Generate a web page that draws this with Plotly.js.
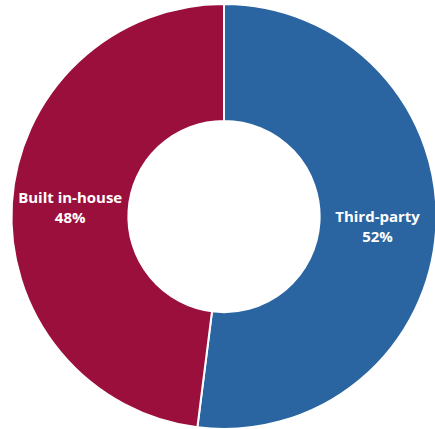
<!DOCTYPE html>
<html><head><meta charset="utf-8">
<script src="https://cdn.plot.ly/plotly-3.0.1.min.js"></script>
<style>html,body{margin:0;padding:0;overflow:hidden;background:#fff}</style>
</head><body>
<div id="chart" style="width:448px;height:429px"></div>
<script>
const labels = ["Third-party", "Built in-house"];
const values = [52, 48];
const colors = ["#2a64a1", "#9b0f3c"];

Plotly.newPlot("chart", [{
  type: "pie",
  labels: labels,
  values: values,
  hole: 0.45,
  sort: false,
  direction: "clockwise",
  rotation: 0,
  marker: {colors: colors, line: {color: "#ffffff", width: 2}},
  texttemplate: "<b>%{label}</b><br><b>%{percent:.0%}</b>",
  textposition: "inside",
  insidetextorientation: "horizontal",
  textfont: {family: "Open Sans, sans-serif", size: 15, color: "#ffffff"},
  hoverinfo: "none"
}], {
  width: 448, height: 429,
  margin: {l: 0, r: 0, t: 4, b: 0},
  showlegend: false,
  paper_bgcolor: "#ffffff"
}, {displayModeBar: false, staticPlot: true});
</script>
</body></html>
